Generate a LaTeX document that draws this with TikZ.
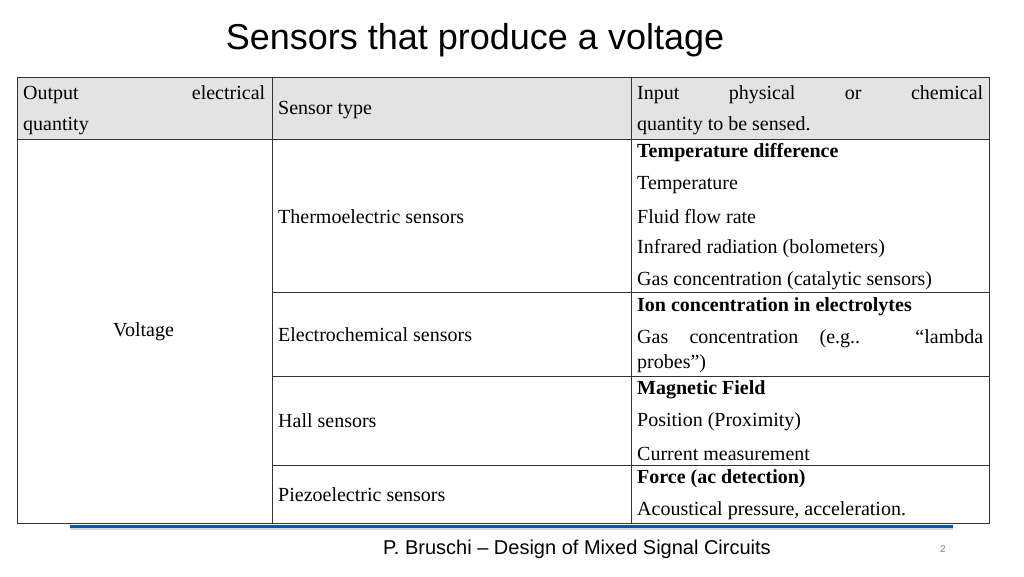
\documentclass[tikz,border=0pt]{standalone}
\usepackage{fontspec}
\setmainfont{Liberation Serif}
\newfontfamily\arialf{Liberation Sans}
\begin{document}
\begin{tikzpicture}[x=1pt,y=-1pt,
  tx/.style={anchor=west,inner sep=0pt,font=\fontsize{20}{24}\selectfont},
  bx/.style={tx,font=\fontsize{20}{24}\selectfont\bfseries},
  grid/.style={draw=black!80,line width=0.8pt}]
\useasboundingbox (0,0) rectangle (1024,576);
\node[font=\arialf\fontsize{36}{40}\selectfont] (title) at (475,40) {Sensors that produce a voltage};
\fill[gray!22] (17,77) rectangle (989,139);
\draw[grid] (17,77) rectangle (989,523);
\draw[grid] (17,139) -- (989,139);
\draw[grid] (272,77) -- (272,523);
\draw[grid] (631,77) -- (631,523);
\draw[grid] (272,292) -- (989,292);
\draw[grid] (272,376) -- (989,376);
\draw[grid] (272,465) -- (989,465);
% header
\node[tx] (h1) at (23,95) {\makebox[242pt][s]{Output electrical}};
\node[tx] (h2) at (23,126) {quantity};
\node[tx] (h3) at (278,110) {Sensor type};
\node[tx] (h4) at (637,95) {\makebox[346pt][s]{Input physical or chemical}};
\node[tx] (h5) at (637,126) {quantity to be sensed.};
% body
\node[tx] (v) at (113,332) {Voltage};
\node[tx] (s1) at (278,217) {Thermoelectric sensors};
\node[tx] (s2) at (278,335) {Electrochemical sensors};
\node[tx] (s3) at (278,421) {Hall sensors};
\node[tx] (s4) at (278,495) {Piezoelectric sensors};
\node[bx] (a1) at (637,153) {Temperature difference};
\node[tx] (a2) at (637,185) {Temperature};
\node[tx] (a3) at (637,217) {Fluid flow rate};
\node[tx] (a4) at (637,249) {Infrared radiation (bolometers)};
\node[tx] (a5) at (637,281) {Gas concentration (catalytic sensors)};
\node[bx] (b1) at (637,307) {Ion concentration in electrolytes};
\node[tx] (b2) at (637,339) {\makebox[346pt][s]{Gas concentration (e.g.. “lambda}};
\node[tx] (b3) at (637,364) {probes”)};
\node[bx] (c1) at (637,390) {Magnetic Field};
\node[tx] (c2) at (637,422) {Position (Proximity)};
\node[tx] (c3) at (637,454) {Current measurement};
\node[bx] (d1) at (637,479) {Force (ac detection)};
\node[tx] (d2) at (637,511) {Acoustical pressure, acceleration.};
% footer
\fill[gray!30] (70,528) rectangle (953,530);
\fill[blue!60!cyan!80!black] (70,525) rectangle (953,528);
\node[font=\arialf\fontsize{20}{24}\selectfont] (ft) at (577,549) {P. Bruschi – Design of Mixed Signal Circuits};
\node[font=\arialf\fontsize{10}{12}\selectfont,text=gray] (pg) at (943,549) {2};
\end{tikzpicture}
\end{document}
